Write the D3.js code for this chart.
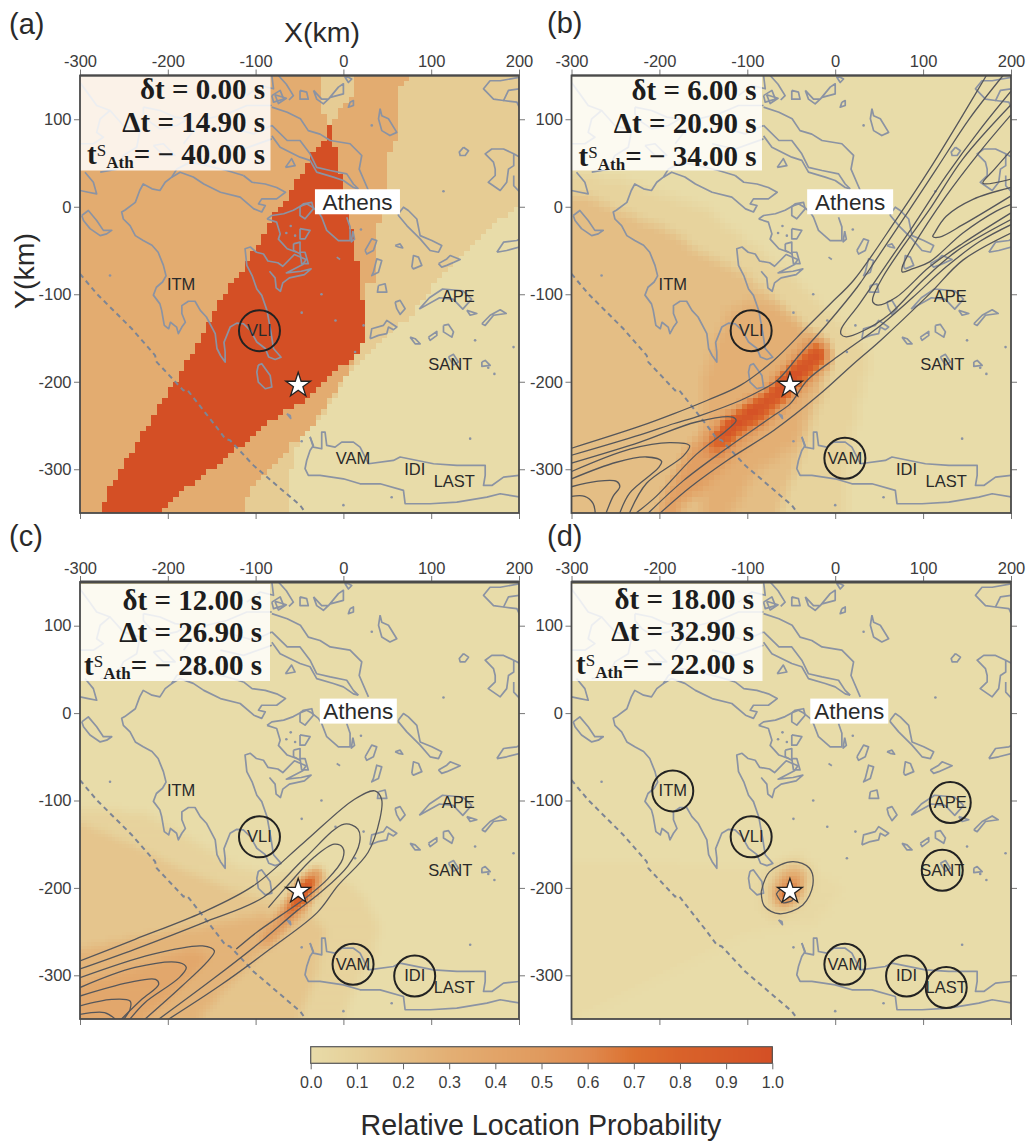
<!DOCTYPE html>
<html>
<head>
<meta charset="utf-8">
<script src="https://cdn.jsdelivr.net/npm/d3@7"></script>
<style>
  html, body { margin: 0; background: #fff; }
  text { font-family: "Liberation Sans", Arial, sans-serif; }
</style>
</head>
<body>
<script>
// Data (everything in km on the map)
// ----------------------------------

var panelNames = ["(a)", "(b)", "(c)", "(d)"];
var smallDelta = ["0.00", "6.00", "12.00", "18.00"];
var bigDelta = ["14.90", "20.90", "26.90", "32.90"];
var athensTime = ["40.00", "34.00", "28.00", "22.00"];

var xTicks = [-300, -200, -100, 0, 100, 200];
var yTicks = [100, 0, -100, -200, -300];
var colorTicks = [0, 0.1, 0.2, 0.3, 0.4, 0.5, 0.6, 0.7, 0.8, 0.9, 1];

var colorStops = [0, 0.1, 0.2, 0.3, 0.4, 0.5, 0.6, 0.7, 0.8, 0.9, 1];
var colorValues = ["#e8dca9", "#e6cf98", "#e4be85", "#e3af74", "#e2a468", "#e09a5e", "#df8a4f", "#dc7130", "#d9622a", "#d65a28", "#d44f25"];

var stationNames = ["ITM", "VLI", "APE", "SANT", "VAM", "IDI", "LAST"];
var stationX = [-184.8, -95.6, 130.9, 121.8, 11, 81.2, 126.3];
var stationY = [-89, -141.6, -102.3, -179.8, -287.4, -300.8, -314];
var stationsFired = [["VLI"], ["VLI", "VAM"], ["VLI", "VAM", "IDI"], ["ITM", "VLI", "APE", "SANT", "VAM", "IDI", "LAST"]];

var epicentre = [-51.5, -204];
var athensLabel = [[16, 5.7], [17, 5.7], [17, 2.3], [16, 2.3]];

// probability regions, painted in order: [value, polygon]
var heatA = [
  [0.12, [[-300,150],[200,150],[200,-1],[175,-15],[148,-42],[113,-77],[76,-125],[63,-135],[38,-162],[13,-185],[0,-200],[-25,-243],[-50,-264],[-62,-313],[-64,-350],[-300,-350]]],
  [0.33, [[-300,150],[-26,150],[-26,118],[-19,94],[-13,96],[0,117],[13,125],[13,150],[75.6,150],[63,136],[63,82],[50,59],[50,-3],[38,-26],[38,-84],[25,-88],[25,-150],[19,-166],[0,-197],[-25,-235],[-37,-251],[-62,-274],[-75,-290],[-100,-313],[-114,-340],[-114,-350],[-300,-350]]],
  [1, [[-19,94],[-22,75],[-30,68],[-37,55],[-43,47],[-64,9],[-83,-15],[-112,-69],[-125,-84],[-151,-125],[-164,-152],[-187,-193],[-212,-231],[-237,-274],[-264,-317],[-275,-350],[-212,-350],[-176,-320],[-137,-290],[-106,-264],[-72,-237],[-37,-216],[0,-181],[19,-166],[25,-150],[25,-119],[19,-92],[13,-42],[0,24],[-6,47],[-8,60],[-12,82],[-13,94]]]
];

var heatB = [
  [0.07, [[-300,40],[-240,30],[-150,0],[-60,-70],[-20,-110],[20,-150],[40,-170],[25,-230],[15,-290],[12,-350],[-300,-350]]],
  [0.2, [[-300,14],[-278,12],[-245,-5],[-190,-25],[-150,-55],[-110,-72],[-80,-95],[-45,-125],[-25,-145],[-5,-175],[-15,-215],[-35,-270],[-63,-350],[-300,-350]]],
  [0.3, [[-152,-350],[-152,-260],[-150,-195],[-123,-122],[-108,-111],[-85,-107],[-59,-118],[-36,-134],[-20,-150],[-8,-175],[-32,-229],[-43,-271],[-70,-290],[-93,-309],[-119,-350]]],
  [0.45, [[-199,-347],[-169,-279],[-146,-252],[-123,-235],[-89,-218],[-59,-187],[-43,-164],[-21,-145],[-5,-157],[-5,-176],[-24,-199],[-55,-225],[-78,-252],[-108,-279],[-131,-305],[-154,-324],[-180,-347]]],
  [0.72, [[-150,-282],[-135,-255],[-120,-238],[-104,-226],[-78,-210],[-55,-185],[-36,-162],[-17,-155],[-8,-172],[-28,-193],[-55,-220],[-81,-245],[-108,-262],[-135,-285]]],
  [1, [[-138,-268],[-128,-248],[-112,-238],[-93,-225],[-62,-196],[-40,-179],[-17,-160],[-12,-172],[-36,-193],[-55,-212],[-85,-238],[-112,-255],[-125,-270]]]
];

var heatC = [
  [0.07, [[-300,-108],[-226,-114],[-160,-152],[-122,-175],[-85,-185],[-40,-180],[0,-190],[25,-210],[40,-240],[36,-274],[15,-310],[0,-350],[-300,-350]]],
  [0.16, [[-300,-125],[-240,-150],[-190,-175],[-130,-200],[-80,-215],[-40,-225],[-20,-250],[-30,-300],[-50,-350],[-300,-350]]],
  [0.27, [[-300,-270],[-220,-255],[-140,-240],[-90,-230],[-70,-240],[-90,-270],[-130,-310],[-165,-350],[-300,-350]]],
  [0.37, [[-300,-310],[-230,-290],[-170,-270],[-150,-280],[-190,-320],[-230,-350],[-300,-350]]],
  [0.5, [[-95,-262],[-75,-232],[-55,-205],[-35,-178],[-22,-180],[-28,-200],[-45,-225],[-70,-250],[-88,-268]]],
  [0.75, [[-72,-238],[-62,-215],[-45,-190],[-33,-182],[-30,-195],[-45,-215],[-60,-232]]],
  [0.95, [[-62,-222],[-50,-193],[-35,-190],[-42,-215]]]
];

var heatD = [
  [0.025, [[-300,-170],[-200,-170],[-100,-180],[-40,-170],[10,-200],[-20,-240],[-100,-250],[-200,-300],[-300,-350]]],
  [0.08, [[-85,-200],[-75,-175],[-45,-162],[-25,-175],[-22,-200],[-40,-225],[-65,-240],[-85,-225]]],
  [0.25, [[-75,-205],[-65,-182],[-45,-172],[-33,-185],[-35,-205],[-50,-222],[-68,-225]]],
  [0.5, [[-68,-210],[-55,-185],[-40,-185],[-42,-205],[-55,-218]]],
  [0.8, [[-65,-212],[-55,-195],[-45,-195],[-50,-212],[-58,-218]]]
];

var contoursB = [
  [[-300,-276],[-222,-250.8],[-184,-236.7],[-146,-221.4],[-108,-204.2],[-70,-175.6],[-32,-137.5],[-5.4,-110.8],[21,-84],[69.4,-14.7],[107.4,43],[145.3,105],[172,150]],
  [[-300,-284],[-222,-260.7],[-184,-248],[-153.6,-238.6],[-108,-221.4],[-85,-210],[-66,-198.5],[-39.6,-168],[-9,-133.7],[25,-92],[30.7,-84],[77,-14.7],[115,43],[153,101],[191,150]],
  [[-300,-331],[-285,-331],[-275.5,-339],[-273,-350]],
  [[-300,-320],[-271.6,-313.9],[-248.8,-313.9],[-245,-319.7],[-252.7,-331],[-260.6,-350]],
  [[-300,-311],[-248.8,-292],[-214.6,-286],[-197.5,-291],[-201.3,-298.5],[-233.6,-327],[-245,-350]],
  [[-300,-302.6],[-233.6,-277],[-188.5,-269.5],[-165.7,-273],[-173,-285],[-214.6,-316],[-234,-350]],
  [[-300,-293],[-222,-269],[-158,-246],[-116.5,-240.5],[-112.7,-244.4],[-124,-256],[-158,-283],[-203.7,-331],[-226.5,-350]],
  [[-199,-350],[-165,-320.6],[-123,-290],[-70,-255.7],[-17,-213.8],[21,-179.4],[51.6,-152.8],[107.4,-99.6],[145.3,-61],[200,-30]],
  [[-212.5,-350],[-172.6,-313],[-127,-278.6],[-70,-238.6],[-51,-225],[-32,-198.5],[2,-171.8],[51.6,-135.6],[88.4,-103.5],[126.3,-68.7],[164.3,-39.8],[200,-20.5]],
  [[200,105],[164.3,62.5],[126.3,12.4],[88.4,-45.6],[76.3,-68.7],[76.3,-74.5],[88.4,-70.7],[107.4,-63],[145.3,-30],[183.2,-5],[200,2.7]],
  [[200,116.6],[145.3,54.8],[107.4,-3],[77,-45.6],[54.2,-80.3],[42.9,-103.5],[42.9,-109],[48.6,-112.4],[69.4,-103.5],[107.4,-68.7],[145.3,-41.7],[200,-7]],
  [[200,132],[164.3,87.6],[126.3,35.5],[88.4,-22.4],[61.8,-61],[27.7,-111],[6.8,-140],[6.8,-146],[12.5,-148.6],[31.5,-142],[61.8,-122.8],[99.8,-84],[137.7,-51],[200,-14.7]],
  [[200,22],[156.7,8.5],[126.3,-10.8],[113,-30],[111,-34],[118.7,-34.7],[145.3,-20.5],[200,12.4]],
  [[200,64.5],[181.3,43],[168,27],[200,31.7]]
];

var contoursC = [
  [[-300,-283.6],[-237.3,-258.8],[-160.4,-228],[-102.7,-197.7],[-45,-148],[12.7,-98.5],[35.8,-89],[43.5,-98.5],[41.5,-121.4],[28,-159.5],[-6.5,-197.7],[-29.6,-228],[-83.5,-270],[-141,-312],[-198.8,-350]],
  [[-300,-292.8],[-237,-270],[-160,-240],[-91,-210.7],[-45,-167],[1,-127],[16.5,-132.8],[18.5,-148],[5,-175],[-25.8,-205],[-52.7,-226],[-91,-259],[-149,-304.6],[-210,-350]],
  [[-85.4,-222.5],[-64,-197.7],[-33.5,-165],[-10.4,-150],[-0.8,-153.8],[-0.8,-167],[-18,-190],[-45,-213],[-72,-232],[-99,-251],[-122,-270]],
  [[-300,-302.7],[-218,-276],[-160.4,-266.4],[-147,-272],[-152.7,-281.7],[-183.5,-312],[-225.8,-350]],
  [[-300,-314],[-237.3,-291],[-187,-285.5],[-179,-291],[-187,-302.7],[-225.8,-331],[-243,-350]],
  [[-300,-323.7],[-245,-308.4],[-214,-304.6],[-210.4,-310.3],[-229.6,-327.5],[-252.7,-350]],
  [[-300,-335],[-264,-327.5],[-243,-329.4],[-243,-339],[-250,-350]],
  [[-300,-344.7],[-272,-342.7],[-260,-350]]
];

var contoursD = [
  [[-84.2,-204.6],[-74.8,-181.7],[-48.2,-170],[-29.2,-177.5],[-25.4,-196.6],[-36.8,-219.5],[-63.4,-229.6],[-80.4,-221],[-84.2,-204.6]],
  [[-67,-207],[-61,-201.5],[-48,-213],[-59.6,-216.8],[-67,-207]]
];

var trench = [[-300,-76.7],[-281,-99.4],[-263.9,-116.5],[-241,-139.4],[-214.5,-169.9],[-212.6,-177.5],[-182.2,-209.9],[-178,-209],[-146,-249.9],[-134.7,-265],[-129,-267],[-102.4,-295.6],[-75.8,-318.5],[-49.2,-341.3],[-43,-350]];

var coastDots = [[114,17.8],[23,-135.6],[13.3,-166],[-9,-130],[-47.5,-121],[150,-152.7],[193.8,-160.4],[144.4,-265],[0,-341],[55,-332],[-47.5,-268],[-265.8,-78.6],[-60,-22],[-55,-33],[-65,-30],[32.3,93],[20,-26],[165,-184],[172,-191],[-25,-100]];

var coastLines = [
  // west and south of the peninsula
  [[-113.8,35.7],[-132.8,41.4],[-155.6,47],[-174.6,51],[-189.8,43],[-195.5,33.8],[-203,28],[-209,18.6],[-218,20.5],[-228,26],[-232,18.6],[-237,5],[-249,-4],[-252.5,-6],[-250.6,-14],[-243,-21.5],[-237,-33],[-228,-38.6],[-218,-44],[-211,-52],[-205,-67],[-202,-79],[-206,-86],[-213,-92],[-216.4,-101],[-209,-111],[-207,-118.4],[-204,-135.6],[-199,-139.4],[-197,-132],[-190,-137.5],[-188,-145],[-184,-137.5],[-180,-132],[-184,-122],[-184,-113],[-176.5,-108],[-169,-108],[-163,-118.5],[-156,-126],[-146,-145],[-144,-162],[-140,-170],[-134.7,-177.5],[-134.7,-166],[-136,-155],[-129,-137.5],[-121.4,-133],[-114,-133.7],[-106,-141.3],[-98.6,-154.6],[-89,-162],[-85,-171.8],[-77.7,-174.5],[-71,-172],[-79.6,-162],[-82.6,-143],[-87,-118.5],[-93,-101.3],[-98.6,-94],[-104,-78.6],[-110,-67],[-112,-48],[-106,-46],[-99,-52],[-91,-54],[-86,-62],[-74.7,-64],[-69,-68],[-55.8,-54.6],[-42.5,-60.3],[-46.3,-66],[-65,-75.6],[-48,-73.7],[-36.8,-71],[-44.4,-77.5],[-61.5,-81.3],[-69,-87],[-71.7,-96.6],[-76.6,-92.7],[-77.8,-81.3],[-84.2,-73.7]],
  // gulf
  [[-113.8,35.7],[-104,28],[-89,26],[-76,22],[-66,16.6],[-76,9],[-93,9],[-96.7,3.3],[-89,1.4],[-93,-6],[-102,-2.4],[-117.6,11],[-140,16.6],[-159,26],[-171,34],[-186,39.5],[-195.5,33.8]],
  [[-87,-14],[-81.5,-10],[-68,-8],[-57,-4],[-49,0.5],[-41.8,3.3],[-36,0],[-28.5,-6],[-24.7,-12],[-19,-27],[-5.7,-38.6],[7.6,-38.6],[7.6,-23],[3.8,-12]],
  [[-87,-14],[-76,-17.6],[-72,-31],[-74,-37],[-64,-48],[-53,-52]],
  [[-49.4,0],[-45.6,3.3],[-36,5],[-34.2,-2.4],[-43.7,-13.8],[-49.4,-10],[-49.4,0]],
  [[10.8,-28],[12.7,-37],[9,-40],[10.8,-28]],
  // north coasts
  [[-81.5,113.8],[-64,108],[-49,100.5],[-40,87],[-26.6,83],[-15,75.7],[7.6,72],[20.9,58.6],[18,43],[28.5,18.6]],
  [[-81.5,93],[-64,75.7],[-49.4,75.7],[-38,60.5],[-30.4,45],[-15,41.4],[3.8,37.6],[11.4,26],[17,20.5]],
  [[-81.5,81],[-72,68],[-49.4,56.7],[-38,53],[-30.4,39.5],[-11.4,33.8],[0,30],[11.4,22],[17,20.5]],
  [[-66,45],[-55,47],[-59,55],[-66,45]],
  // under the time box
  [[-300,142],[-290.5,129],[-281,115.7],[-265.8,110],[-277,100.5],[-281,85],[-273.4,79.5],[-284.8,72],[-300,72]],
  [[-227.8,113.8],[-208.8,110],[-191.7,102.4],[-176.5,100.5],[-189.8,92.9],[-208.8,89],[-220,96.7],[-227.8,106],[-227.8,113.8]],
  [[-265.8,110],[-250.6,92.9],[-231.6,87],[-235.4,68],[-250.6,58.6],[-258,43],[-277,39.5]],
  [[-110,127],[-94.8,138.6],[-79.6,134.8],[-81.5,150]],
  [[-81.5,115.7],[-110,115.7],[-132.8,106],[-155.6,100.5],[-170.8,87],[-182,72]],
  [[-136.6,92.9],[-102.4,83.3],[-81.5,92.9]],
  [[-140,72],[-113.8,66],[-81.5,77.6]],
  [[-216.4,70],[-205,72],[-191.7,58.6],[-205,58.6],[-216.4,70]],
  [[-81.5,127],[-72,133],[-68,123],[-79.6,119.5],[-81.5,127]],
  [[-78,128],[-65,124],[-74,118],[-78,128]],
  [[-74,150],[-65,140],[-57,127],[-62,122]],
  // western islands
  [[-298,-10],[-290.5,-4.3],[-281,-15.7],[-273.4,-27],[-263.9,-27],[-269.6,-31],[-277,-33],[-288.6,-25],[-296,-15.7],[-298,-10]],
  [[-300,18.6],[-290.5,16.6],[-281,14.7],[-284.8,28],[-294.3,39.5]],
  // northern islands
  [[-34,133],[-24.7,123],[-17,123],[-5.7,136.7],[0,140.5],[0,129],[-15,125],[-22.8,117.6],[-30.4,123],[-34,133]],
  [[-49.4,133],[-41.8,131],[-40,123],[-49.4,123],[-49.4,133]],
  [[7.6,119.5],[11.4,121.4],[11.4,115.7],[5.7,113.8],[7.6,119.5]],
  [[5.7,148],[9.5,146],[5.7,142],[1.9,148],[5.7,148]],
  [[41.8,112],[43.7,104],[51.3,100.5],[60.8,85],[53,81.4],[43.7,87],[40,100.5],[41.8,112]],
  [[136.8,68],[142.5,64],[138.7,58.6],[133,58.6],[132,62.4],[136.8,68]],
  // north east
  [[201,56.7],[194,60.5],[182.4,66],[169,66],[161.5,60.5],[170.9,51],[172.9,43],[172.9,35.7],[165,28],[178.6,18.6],[186,28],[188,43],[194,47],[194,60.5]],
  [[194,35.7],[194,24],[201,16.6]],
  [[201,148],[178.6,144],[167,144],[159.6,134.8],[171,123],[182.4,121.4],[188,133],[201,134.8]],
  [[182.4,121.4],[197.6,119.5],[201,112]],
  // Euboea style long island
  [[62.7,-8],[68.4,-0.5],[74,-4.3],[83.6,-14],[87.4,-33],[100.7,-38.6],[112,-44.3],[108.3,-52],[98.8,-50],[87.4,-36.7],[72.2,-21.5],[62.7,-10],[62.7,-8]],
  // Cyclades
  [[24.7,-50],[32.3,-36.7],[38,-38.6],[34.2,-50],[26.6,-54],[24.7,-50]],
  [[58.9,-44.3],[64.6,-42.4],[67.6,-47],[62.7,-46],[58.9,-44.3]],
  [[-7.6,-57.6],[-3.8,-60.3]],
  [[34.2,-74.8],[38,-59.6],[43.7,-61.5],[39.9,-74.8],[32.3,-78.6],[34.2,-74.8]],
  [[77.9,-69],[79.8,-55.7],[85.5,-57.6],[89.3,-67],[79.8,-71],[77.9,-69]],
  [[108.3,-65],[117.8,-59.6],[121.6,-55.7],[133,-60.3],[117.8,-67],[112,-69],[108.3,-65]],
  [[174.8,-52],[182.4,-40.5],[197.6,-38.6],[201,-36.7],[201,-46],[186,-50],[174.8,-52]],
  [[39.9,-90],[47.5,-88],[49.4,-97.6],[38.8,-97.6],[39.9,-90]],
  [[86.4,-117],[98,-104],[113,-94],[136,-96],[146,-105.6],[136,-117],[125,-105.6],[109.5,-104],[86.4,-117]],
  [[58.9,-109],[64.6,-107],[70.3,-116.5],[64.6,-123],[60.8,-116.5],[58.9,-109]],
  [[30.4,-150.8],[32.3,-139.4],[45.6,-135.6],[49.4,-129.9],[55.1,-133.7],[60.8,-137.5],[57,-140.5],[51.3,-137.5],[49.4,-145],[39.9,-147],[30.4,-150.8]],
  [[76,-149],[81.7,-150.8],[87.4,-156.6],[81.7,-156.6],[76,-149]],
  [[96.9,-149],[106.4,-142.5],[106.4,-147],[98.8,-152.7],[96.9,-149]],
  [[114,-135.6],[119.7,-134.5],[125.4,-143],[123.5,-149],[114,-143],[114,-135.6]],
  [[157.7,-133.7],[167.2,-124],[178.6,-117.7],[185.4,-122],[171,-124],[161.5,-135.6],[157.7,-133.7]],
  [[140.6,-118.4],[152,-122],[144.4,-124],[140.6,-118.4]],
  [[119.7,-171.8],[125.4,-168.7],[131,-177.5],[125.4,-181],[119.7,-171.8]],
  [[157.7,-177.5],[161.5,-175.6],[167.2,-181.3],[157.7,-182.5],[157.7,-177.5]],
  [[-49.4,-25],[-38,-27],[-43.7,-36.7],[-49.4,-36.7],[-49.4,-25]],
  [[-56.8,-42.4],[-49.4,-40.5],[-49.4,-53.8],[-56.8,-50],[-56.8,-42.4]],
  [[-49.4,-52],[-43.7,-52],[-40,-65],[-47.5,-65],[-49.4,-52]],
  // Kythira and neighbour
  [[-96.9,-181],[-93,-179.4],[-83.4,-192.8],[-81.5,-206],[-89,-208],[-96.9,-200.4],[-98.6,-189],[-96.9,-181]],
  [[-64.4,-236.6],[-60.6,-238.5],[-60,-242],[-64.4,-236.6]],
  // Crete
  [[-38,-263],[-34.2,-272.8],[-38,-278.5],[-41.8,-290],[-43.7,-299.4],[-39.9,-307],[-26.6,-307],[0,-310.9],[19,-316.6],[41.8,-316.6],[68.4,-324.2],[70.3,-339.4],[98.8,-339.4],[129.2,-337.5],[163.4,-331.8],[178.6,-328],[201,-331.8]],
  [[-38,-263],[-34.2,-274.7],[-24.7,-276.6],[-24.7,-257.5],[-20.9,-257.5],[-19,-272.8],[-9.5,-274.7],[-1.9,-269],[11.4,-269],[19,-274.7],[28.5,-293.7],[57,-289.9],[64.6,-286],[102.6,-293.7],[129.2,-295.6],[161.5,-295.6],[161.5,-307],[159.6,-318.5],[169.1,-318.5],[182.4,-309],[201,-307]]
];

// Layout
// ------

var width = 1032, height = 1144;
var heatLists = [heatA, heatB, heatC, heatD];
var contourLists = [[], contoursB, contoursC, contoursD];
var cellKm = [6.25, 6.25, 4, 4];
var blurPasses = [0, 1, 2, 2];

var panelLeft = [80, 571.5, 80, 571.5];
var panelRight = [519, 1011, 519, 1011];
var panelTop = [75.5, 75.5, 582, 582];
var panelBottom = [513, 513, 1019, 1019];
var topStroke = [2, 2, 3.2, 3.2];
var letterX = [9, 547, 9, 547];
var letterY = [34, 33, 546, 546];
var athensWidth = [85, 86, 77, 78];
var textRight = [265, 756.5, 262, 754];
var baselines = [[99, 132, 164], [100, 132.5, 165.5], [609.5, 641.5, 674.5], [608.5, 641, 674]];
var boxHeight = [94.5, 94.5, 97, 97];
var boxTop = [76, 76, 584, 584];
var boxWidth = [190.5, 190.5, 190, 191];

var svg = d3.select("body").append("svg")
  .attr("width", width)
  .attr("height", height)
  .style("display", "block");

var probColor = d3.scaleLinear().domain(colorStops).range(colorValues).clamp(true);
var textColor = "#2a2a2a";
var tickColor = "#4a4a4a";

// turn the read-off regions into a grid of cells
function buildGrid(regions, cell, passes) {
  var nx = Math.round(500 / cell), ny = Math.round(500 / cell);
  var grid = d3.range(ny).map(function () { return d3.range(nx).map(function () { return 0; }); });

  regions.forEach(function (region) {
    for (var j = 0; j < ny; j++) {
      for (var i = 0; i < nx; i++) {
        var point = [-300 + (i + 0.5) * cell, 150 - (j + 0.5) * cell];
        if (d3.polygonContains(region[1], point)) grid[j][i] = region[0];
      }
    }
  });

  for (var p = 0; p < passes; p++) {
    grid = grid.map(function (row, j) {
      return row.map(function (v, i) {
        var vals = [];
        for (var dj = -1; dj <= 1; dj++) {
          for (var di = -1; di <= 1; di++) {
            var r = grid[j + dj];
            if (r && r[i + di] !== undefined) vals.push(r[i + di]);
          }
        }
        return d3.mean(vals);
      });
    });
  }

  // merge equal neighbours along the row so there are fewer rects
  var runs = [];
  grid.forEach(function (row, j) {
    var start = 0;
    for (var i = 1; i <= nx; i++) {
      if (i === nx || Math.abs(row[i] - row[start]) > 0.004) {
        if (row[start] > 0.004) {
          runs.push({
            x0: -300 + start * cell, x1: -300 + i * cell,
            y0: 150 - j * cell, y1: 150 - (j + 1) * cell,
            v: row[start]
          });
        }
        start = i;
      }
    }
  });
  return runs;
}

// Panels
// ------

panelNames.forEach(function (name, k) {
  var x = d3.scaleLinear().domain([-300, 200]).range([panelLeft[k], panelRight[k]]);
  var y = d3.scaleLinear().domain([-350, 150]).range([panelBottom[k], panelTop[k]]);
  var g = svg.append("g").attr("class", "panel");

  var clipId = "clip" + k;
  svg.append("clipPath").attr("id", clipId).append("rect")
    .attr("x", x(-300)).attr("y", y(150))
    .attr("width", x(200) - x(-300)).attr("height", y(-350) - y(150));

  var line = d3.line().x(function (d) { return x(d[0]); }).y(function (d) { return y(d[1]); });
  var smooth = d3.line().x(function (d) { return x(d[0]); }).y(function (d) { return y(d[1]); })
    .curve(d3.curveCatmullRom.alpha(0.5));

  var map = g.append("g").attr("clip-path", "url(#" + clipId + ")");

  // Heat cells
  // ----------
  map.append("rect")
    .attr("x", x(-300)).attr("y", y(150))
    .attr("width", x(200) - x(-300)).attr("height", y(-350) - y(150))
    .attr("fill", probColor(0));

  map.append("g").selectAll("rect")
    .data(buildGrid(heatLists[k], cellKm[k], blurPasses[k]))
    .enter().append("rect")
    .attr("x", function (d) { return x(d.x0); })
    .attr("y", function (d) { return y(d.y0); })
    .attr("width", function (d) { return x(d.x1) - x(d.x0); })
    .attr("height", function (d) { return y(d.y1) - y(d.y0); })
    .attr("fill", function (d) { return probColor(d.v); })
    .attr("shape-rendering", "crispEdges");

  // Coast, trench, contours
  // -----------------------
  map.append("g").selectAll("path")
    .data(coastLines)
    .enter().append("path")
    .attr("d", line)
    .attr("fill", "none")
    .attr("stroke", "#8b93a3")
    .attr("stroke-width", 1.7)
    .attr("stroke-linejoin", "round");

  map.append("g").selectAll("circle")
    .data(coastDots)
    .enter().append("circle")
    .attr("cx", function (d) { return x(d[0]); })
    .attr("cy", function (d) { return y(d[1]); })
    .attr("r", 1.3)
    .attr("fill", "#8b93a3");

  map.append("path")
    .datum(trench)
    .attr("d", line)
    .attr("fill", "none")
    .attr("stroke", "#7d8594")
    .attr("stroke-width", 2)
    .attr("stroke-dasharray", "5,4");

  map.append("g").selectAll("path")
    .data(contourLists[k])
    .enter().append("path")
    .attr("d", smooth)
    .attr("fill", "none")
    .attr("stroke", "#55565a")
    .attr("stroke-width", 1.3);

  // Time box
  // --------
  g.append("rect")
    .attr("x", panelLeft[k]).attr("y", boxTop[k])
    .attr("width", boxWidth[k]).attr("height", boxHeight[k])
    .attr("fill", "#fff").attr("fill-opacity", 0.84);

  var serif = '"Liberation Serif", "Times New Roman", serif';
  var lines = [
    [{ t: "\u03b4t = " + smallDelta[k] + " s", s: 29 }],
    [{ t: "\u0394t = " + bigDelta[k] + " s", s: 29 }],
    [{ t: "t", s: 29 }, { t: "S", s: 17, dy: -8, w: "normal" }, { t: "Ath", s: 17, dy: 12 }, { t: "= \u2212 " + athensTime[k] + " s", s: 29, dy: -4 }]
  ];
  lines.forEach(function (parts, n) {
    var label = g.append("text")
      .attr("x", textRight[k]).attr("y", baselines[k][n])
      .attr("text-anchor", "end")
      .attr("fill", "#1d1d1d")
      .style("font-family", serif)
      .style("font-weight", "bold");
    parts.forEach(function (part) {
      label.append("tspan")
        .attr("dy", part.dy || 0)
        .style("font-size", part.s + "px")
        .style("font-weight", part.w || "bold")
        .text(part.t);
    });
  });

  // Athens tag
  // ----------
  var ax = x(athensLabel[k][0]), ay = y(athensLabel[k][1]);
  g.append("rect")
    .attr("x", ax - athensWidth[k] / 2).attr("y", ay - 12.5)
    .attr("width", athensWidth[k]).attr("height", 25)
    .attr("fill", "#fff");
  g.append("text")
    .attr("x", ax).attr("y", ay + 8)
    .attr("text-anchor", "middle")
    .attr("fill", textColor)
    .style("font-size", "22.5px")
    .text("Athens");

  // Stations
  // --------
  var stations = stationNames.map(function (s, i) { return { name: s, x: stationX[i], y: stationY[i] }; });

  g.append("g").selectAll("text")
    .data(stations)
    .enter().append("text")
    .attr("x", function (d) { return x(d.x); })
    .attr("y", function (d) { return y(d.y) + 5.5; })
    .attr("text-anchor", "middle")
    .attr("fill", textColor)
    .style("font-size", "16.5px")
    .text(function (d) { return d.name; });

  g.append("g").selectAll("circle")
    .data(stations.filter(function (d) { return stationsFired[k].indexOf(d.name) >= 0; }))
    .enter().append("circle")
    .attr("cx", function (d) { return x(d.x); })
    .attr("cy", function (d) { return y(d.y); })
    .attr("r", 20.5)
    .attr("fill", "none")
    .attr("stroke", "#222")
    .attr("stroke-width", 2);

  // Epicentre
  // ---------
  g.append("path")
    .attr("d", d3.symbol().type(d3.symbolStar).size(190))
    .attr("transform", "translate(" + x(epicentre[0]) + "," + y(epicentre[1]) + ")")
    .attr("fill", "#fff")
    .attr("stroke", "#222")
    .attr("stroke-width", 1.3);

  // Axes
  // ----
  var plain = function (d) { return String(d); };
  var axes = [
    { ax: d3.axisTop(x).tickValues(xTicks).tickFormat(plain), pos: "translate(0," + y(150) + ")" },
    { ax: d3.axisBottom(x).tickValues(xTicks).tickFormat(""), pos: "translate(0," + y(-350) + ")" },
    { ax: d3.axisLeft(y).tickValues(yTicks).tickFormat(plain), pos: "translate(" + x(-300) + ",0)" },
    { ax: d3.axisRight(y).tickValues(yTicks).tickFormat(""), pos: "translate(" + x(200) + ",0)" }
  ];
  axes.forEach(function (a) {
    var axisG = g.append("g")
      .attr("transform", a.pos)
      .call(a.ax.tickSize(6).tickPadding(2.5));
    axisG.select(".domain").remove();
    axisG.selectAll("line").attr("stroke", "#777").attr("stroke-width", 1);
    axisG.selectAll("text")
      .attr("fill", "#3c3c3c")
      .style("font-size", "16.5px")
      .style("font-family", '"Liberation Sans", Arial, sans-serif');
  });

  g.append("rect")
    .attr("x", x(-300)).attr("y", y(150))
    .attr("width", x(200) - x(-300)).attr("height", y(-350) - y(150))
    .attr("fill", "none")
    .attr("stroke", tickColor)
    .attr("stroke-width", 1.8);

  g.append("line")
    .attr("x1", x(-300)).attr("x2", x(200))
    .attr("y1", y(150)).attr("y2", y(150))
    .attr("stroke", tickColor)
    .attr("stroke-width", topStroke[k]);

  // Panel letter
  // ------------
  svg.append("text")
    .attr("x", letterX[k]).attr("y", letterY[k])
    .attr("fill", textColor)
    .style("font-size", "29px")
    .text(name);
});

// Axis titles
// -----------
svg.append("text")
  .attr("x", 322).attr("y", 42)
  .attr("text-anchor", "middle")
  .attr("fill", textColor)
  .style("font-size", "28.5px")
  .text("X(km)");

svg.append("text")
  .attr("transform", "translate(34,271) rotate(-90)")
  .attr("text-anchor", "middle")
  .attr("fill", textColor)
  .style("font-size", "28.5px")
  .text("Y(km)");

// Colour bar
// ----------
var barX = d3.scaleLinear().domain([0, 1]).range([310.7, 772.3]);
var barTop = 1046.7, barBottom = 1063.3;

svg.append("g").selectAll("rect")
  .data(d3.range(0, 1, 0.005))
  .enter().append("rect")
  .attr("x", function (d) { return barX(d); })
  .attr("y", barTop)
  .attr("width", barX(0.005) - barX(0) + 0.6)
  .attr("height", barBottom - barTop)
  .attr("fill", function (d) { return probColor(d + 0.0025); })
  .attr("shape-rendering", "crispEdges");

svg.append("rect")
  .attr("x", barX(0)).attr("y", barTop)
  .attr("width", barX(1) - barX(0)).attr("height", barBottom - barTop)
  .attr("fill", "none")
  .attr("stroke", "#555")
  .attr("stroke-width", 1.2);

var barAxis = svg.append("g")
  .attr("transform", "translate(0," + barBottom + ")")
  .call(d3.axisBottom(barX).tickValues(colorTicks).tickSize(6).tickPadding(7).tickFormat(d3.format(".1f")));
barAxis.select(".domain").remove();
barAxis.selectAll("line").attr("stroke", "#666");
barAxis.selectAll("text")
  .attr("fill", "#3c3c3c")
  .style("font-size", "16px")
  .style("font-family", '"Liberation Sans", Arial, sans-serif');

svg.append("text")
  .attr("x", 541).attr("y", 1135)
  .attr("text-anchor", "middle")
  .attr("fill", textColor)
  .style("font-size", "28.6px")
  .text("Relative Location Probability");
</script>
</body>
</html>
